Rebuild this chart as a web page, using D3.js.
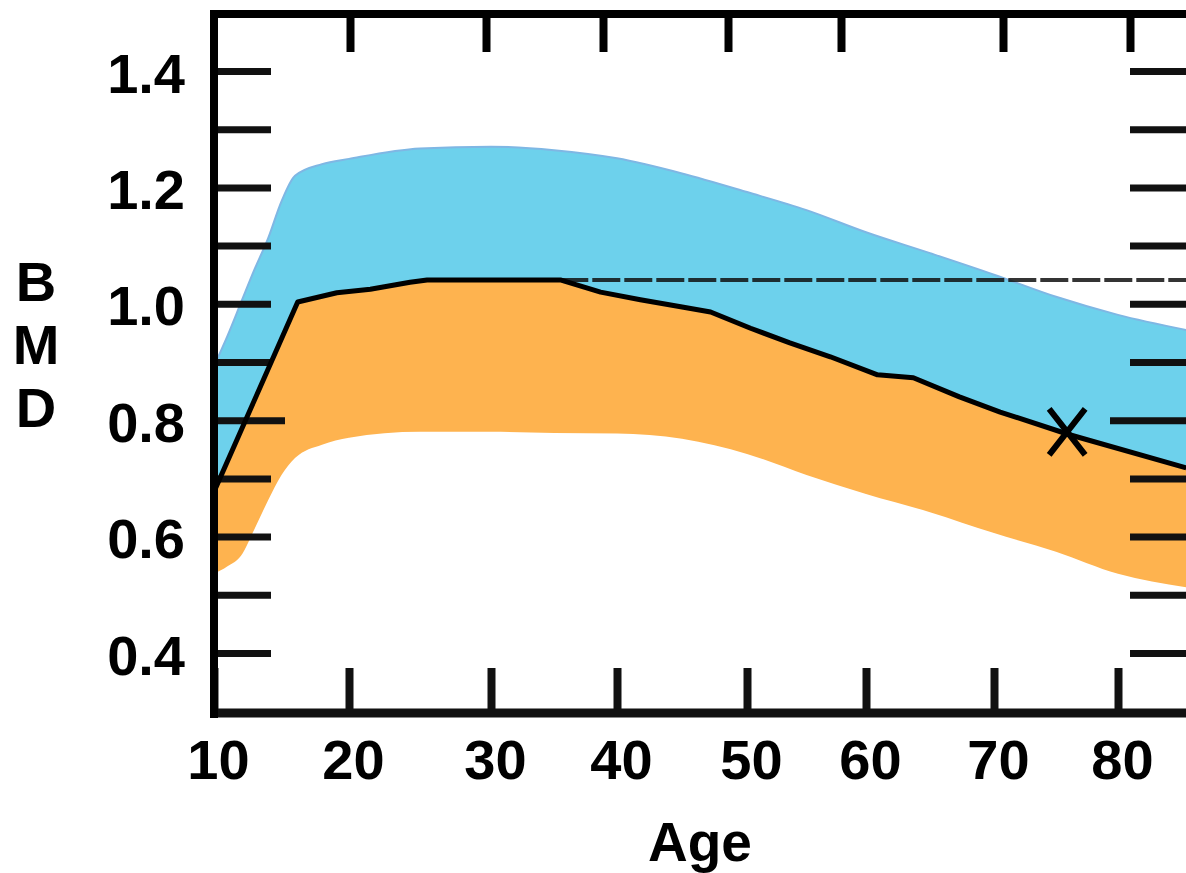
<!DOCTYPE html>
<html><head><meta charset="utf-8">
<script src="https://cdn.jsdelivr.net/npm/d3@7"></script>
<style>html,body{margin:0;padding:0;background:#fff}svg{display:block}</style>
</head><body>
<svg id="chart" width="1186" height="873"></svg>
<script>
// ---- data ----
const ageTicks = [10, 20, 30, 40, 50, 60, 70, 80];
const bmdTicks = [0.4, 0.5, 0.6, 0.7, 0.8, 0.9, 1.0, 1.1, 1.2, 1.3, 1.4];
const bmdLabelled = [0.4, 0.6, 0.8, 1.0, 1.2, 1.4];

// band edges (upper = top of blue band, lower = bottom of orange band)
const bandAges  = [10, 11, 12, 13, 14, 15, 16, 18, 20, 25, 30, 35, 40, 45, 50, 55, 60, 65, 70, 75, 80, 85.5];
const upperBMD  = [0.893, 0.945, 1.002, 1.059, 1.112, 1.176, 1.220, 1.240, 1.249, 1.267, 1.270, 1.264, 1.250, 1.224, 1.192, 1.161, 1.123, 1.087, 1.050, 1.012, 0.981, 0.955];
const lowerBMD  = [0.536, 0.549, 0.567, 0.613, 0.662, 0.706, 0.735, 0.758, 0.770, 0.780, 0.780, 0.778, 0.777, 0.768, 0.742, 0.706, 0.673, 0.642, 0.606, 0.574, 0.536, 0.513];

// mean curve (black line)
const meanAges  = [10, 16.2, 19.1, 21.5, 24.3, 25.5, 35.5, 38.7, 41.8, 44.9, 47.2, 50.3, 53.6, 57.0, 60.9, 63.7, 67.3, 70.5, 76.1, 85.5];
const meanBMD   = [0.677, 1.003, 1.019, 1.025, 1.037, 1.041, 1.041, 1.020, 1.007, 0.995, 0.986, 0.958, 0.933, 0.909, 0.878, 0.873, 0.840, 0.814, 0.775, 0.718];

// peak reference (dashed) and patient marker
const peakBMD = 1.041, peakFromAge = 35.5, peakToAge = 86;
const patientAge = 75.9, patientBMD = 0.780;

// ---- layout ----
const svg = d3.select("#chart");
const FONT = "'Liberation Sans', Arial, Helvetica, sans-serif";
const leftX = 214, topY = 14, bottomY = 713, rightX = 1190;

const x = d3.scaleLinear().domain(ageTicks).range([214, 349, 491, 617, 747, 866, 994, 1118]);
const xTop = d3.scaleLinear().domain(ageTicks).range([214, 350, 486, 603, 728, 841, 1003, 1130]);
const y = d3.scaleLinear().domain([0.4, 1.4]).range([653, 71]);

const BLUE = "#6DD1EC", ORANGE = "#FEB34F";

const upperPts = bandAges.map((a, i) => [a, upperBMD[i]]);
const lowerPts = bandAges.map((a, i) => [a, lowerBMD[i]]);
const meanPts = meanAges.map((a, i) => [a, meanBMD[i]]);

const clip = svg.append("defs").append("clipPath").attr("id", "plot")
  .append("rect").attr("x", leftX).attr("y", topY).attr("width", 1186 - leftX).attr("height", bottomY - topY);

const g = svg.append("g").attr("clip-path", "url(#plot)");

const areaSmooth = d3.area().x(d => x(d[0])).y0(bottomY).y1(d => y(d[1])).curve(d3.curveMonotoneX);
const areaLinear = d3.area().x(d => x(d[0])).y0(bottomY).y1(d => y(d[1])).curve(d3.curveLinear);

g.append("path").datum(upperPts).attr("d", areaSmooth).attr("fill", BLUE);
g.append("path").datum(upperPts)
  .attr("d", d3.line().x(d => x(d[0])).y(d => y(d[1])).curve(d3.curveMonotoneX))
  .attr("fill", "none").attr("stroke", "#7fb7e4").attr("stroke-width", 2);
g.append("path").datum(meanPts).attr("d", areaLinear).attr("fill", ORANGE);
g.append("path").datum(lowerPts).attr("d", areaSmooth).attr("fill", "#fff");

// dashed peak reference line
g.append("line")
  .attr("x1", x(peakFromAge)).attr("x2", x(peakToAge))
  .attr("y1", y(peakBMD)).attr("y2", y(peakBMD))
  .attr("stroke", "#111").attr("stroke-opacity", 0.85)
  .attr("stroke-width", 4).attr("stroke-dasharray", "28,4");

// ---- axes ----
const isLab = d => bmdLabelled.some(v => Math.abs(v - d) < 1e-6);

const yAxisL = svg.append("g").attr("transform", `translate(${leftX},0)`)
  .call(d3.axisLeft(y).tickValues(bmdTicks).tickSize(-57).tickSizeOuter(0).tickPadding(29)
    .tickFormat(d => isLab(d) ? d3.format(".1f")(d) : ""));
yAxisL.select(".domain").remove();
yAxisL.selectAll(".tick line").attr("stroke", "#111").attr("stroke-width", 7)
  .filter(d => Math.abs(d - 0.8) < 1e-6).attr("x2", 71);
yAxisL.selectAll(".tick text").attr("dy", null).attr("y", 21)
  .style("font-family", FONT).style("font-weight", "bold").style("font-size", "56px").attr("fill", "#000");

const yAxisR = svg.append("g").attr("transform", `translate(${rightX},0)`)
  .call(d3.axisRight(y).tickValues(bmdTicks).tickSize(-60).tickSizeOuter(0).tickFormat(""));
yAxisR.select(".domain").remove();
yAxisR.selectAll(".tick line").attr("stroke", "#111").attr("stroke-width", 7)
  .filter(d => Math.abs(d - 0.8) < 1e-6).attr("x2", -80);

const xAxisB = svg.append("g").attr("transform", `translate(0,${bottomY})`)
  .call(d3.axisBottom(x).tickValues(ageTicks).tickSize(-45).tickSizeOuter(0).tickPadding(26)
    .tickFormat(d3.format("d")));
xAxisB.select(".domain").remove();
xAxisB.selectAll(".tick line").attr("stroke", "#111").attr("stroke-width", 8);
xAxisB.selectAll(".tick text").attr("dx", 4)
  .style("font-family", FONT).style("font-weight", "bold").style("font-size", "56px").attr("fill", "#000");

const xAxisT = svg.append("g").attr("transform", `translate(0,${topY})`)
  .call(d3.axisTop(xTop).tickValues(ageTicks.slice(1)).tickSize(-38).tickSizeOuter(0).tickFormat(""));
xAxisT.select(".domain").remove();
xAxisT.selectAll(".tick line").attr("stroke", "#000").attr("stroke-width", 8);

// mean line
svg.append("path").datum(meanPts).attr("clip-path", "url(#plot)")
  .attr("d", d3.line().x(d => x(d[0])).y(d => y(d[1])))
  .attr("fill", "none").attr("stroke", "#000").attr("stroke-width", 5).attr("stroke-linejoin", "round");

// patient marker
svg.append("path")
  .attr("transform", `translate(${x(patientAge)},${y(patientBMD)})`)
  .attr("d", "M-18,-23L18,23M18,-23L-18,23")
  .attr("stroke", "#000").attr("stroke-width", 6).attr("fill", "none");

// frame
svg.append("line").attr("x1", 210).attr("x2", 1186).attr("y1", topY).attr("y2", topY)
  .attr("stroke", "#000").attr("stroke-width", 8);
svg.append("line").attr("x1", 210).attr("x2", 1186).attr("y1", bottomY).attr("y2", bottomY)
  .attr("stroke", "#111").attr("stroke-width", 9);
svg.append("line").attr("x1", leftX).attr("x2", leftX).attr("y1", 10).attr("y2", 718)
  .attr("stroke", "#000").attr("stroke-width", 8);

// axis titles
svg.append("text").attr("x", 700).attr("y", 861).attr("text-anchor", "middle")
  .style("font-family", FONT).style("font-weight", "bold").style("font-size", "55px").text("Age");
const yTitle = ["B", "M", "D"];
svg.append("g").selectAll("text").data(yTitle).join("text")
  .attr("x", 36).attr("y", (d, i) => 301 + i * 63).attr("text-anchor", "middle")
  .style("font-family", FONT).style("font-weight", "bold").style("font-size", "56px").text(d => d);
</script>
</body></html>
